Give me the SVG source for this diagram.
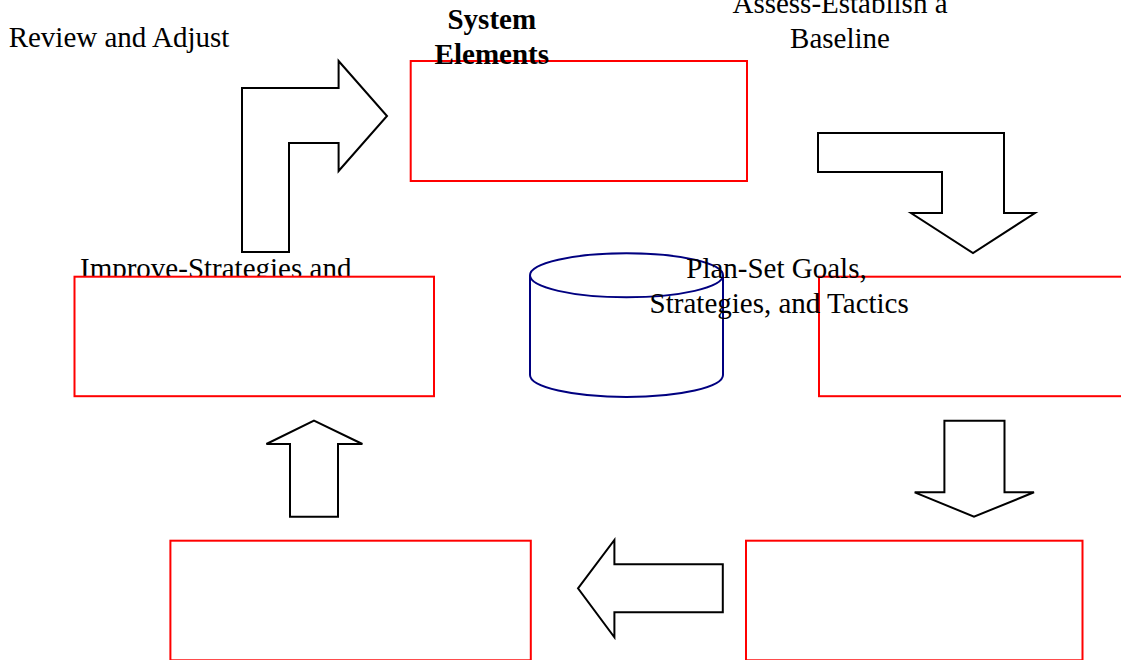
<svg xmlns="http://www.w3.org/2000/svg" width="1121" height="660" viewBox="0 0 1121 660">
<style>
.t{font-family:"Liberation Serif","Times New Roman",serif;font-size:29px;fill:#000;text-anchor:middle}
.b{font-weight:bold}
.box{fill:#fff;stroke:#ff0000;stroke-width:2}
.arr{fill:#fff;stroke:#000;stroke-width:2;stroke-linejoin:miter}
.cyl{fill:#fff;stroke:#000080;stroke-width:2}
</style>
<rect width="1121" height="660" fill="#fff"/>
<g id="review-label"><text class="t" x="119" y="47.3">Review and Adjust</text></g>
<g id="connectors">
<polygon class="arr" points="242,252 242,88 338.6,88 338.6,61 387,116 338.6,171 338.6,143 289,143 289,252"/>
<polygon class="arr" points="818,133 1004,133 1004,213 1035,213 973,253 911,213 942,213 942,172 818,172"/>
<polygon class="arr" points="944.4,420.7 1004.5,420.7 1004.5,492.3 1034,492.3 974,516.7 914.7,492.3 944.4,492.3"/>
<polygon class="arr" points="314,420.7 362.4,444 338,444 338,516.7 290,516.7 290,444 266.4,444"/>
<polygon class="arr" points="578,588.3 614.4,540 614.4,564.3 722.8,564.3 722.8,612.3 614.4,612.3 614.4,637.3"/>
</g>
<g id="system-elements">
<rect class="box" x="410.7" y="61" width="336.3" height="120"/>
<text class="t b" x="491.8" y="28.8">System</text>
<text class="t b" x="491.8" y="63.8">Elements</text>
</g>
<g id="assess">
<text class="t" x="840" y="13.3">Assess-Establish a</text>
<text class="t" x="840" y="48.3">Baseline</text>
</g>
<g id="improve">
<text class="t" x="215.7" y="277.5">Improve-Strategies and</text>
<rect class="box" x="74.5" y="276.7" width="359.5" height="119.5"/>
</g>
<g id="center-cylinder">
<path class="cyl" d="M530,275.3 V375 A96.5,22 0 0 0 723,375 V275.3"/>
<ellipse class="cyl" cx="626.5" cy="275.3" rx="96.5" ry="22"/>
</g>
<g id="plan">
<rect class="box" x="819" y="276.7" width="304" height="119.5"/>
<text class="t" x="776.5" y="278.3">Plan-Set Goals,</text>
<text class="t" x="779.2" y="312.7">Strategies, and Tactics</text>
</g>
<g id="bottom-right-box"><rect class="box" x="746" y="540.7" width="336.5" height="119.6"/></g>
<g id="bottom-left-box"><rect class="box" x="170.4" y="540.7" width="360.4" height="119.6"/></g>
</svg>
